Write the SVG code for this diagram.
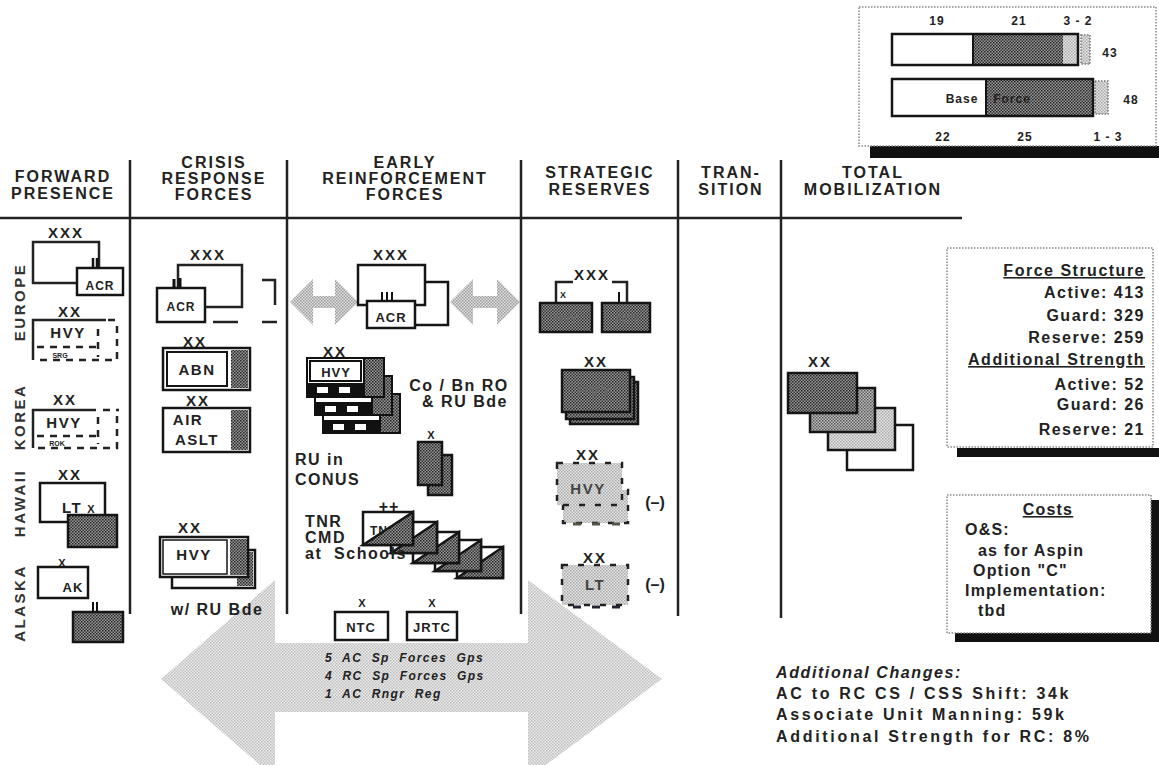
<svg xmlns="http://www.w3.org/2000/svg" width="1159" height="765" viewBox="0 0 1159 765">
<defs>
<pattern id="pd" width="3" height="3" patternUnits="userSpaceOnUse"><rect width="3" height="3" fill="#9a9a9a"/><rect width="1.5" height="1.5" fill="#222"/><rect x="1.5" y="1.5" width="1.5" height="1.5" fill="#333"/></pattern>
<pattern id="pm" width="3" height="3" patternUnits="userSpaceOnUse"><rect width="3" height="3" fill="#bdbdbd"/><rect width="1.5" height="1.5" fill="#555"/><rect x="1.5" y="1.5" width="1.5" height="1.5" fill="#666"/></pattern>
<pattern id="pl" width="3" height="3" patternUnits="userSpaceOnUse"><rect width="3" height="3" fill="#e6e6e6"/><rect width="1.5" height="1.5" fill="#a8a8a8"/><rect x="1.5" y="1.5" width="1.5" height="1.5" fill="#b0b0b0"/></pattern>
<pattern id="pa" width="3" height="3" patternUnits="userSpaceOnUse"><rect width="3" height="3" fill="#ececec"/><rect width="1.5" height="1.5" fill="#bcbcbc"/><rect x="1.5" y="1.5" width="1.5" height="1.5" fill="#c2c2c2"/></pattern>
<pattern id="ps" width="3" height="3" patternUnits="userSpaceOnUse"><rect width="3" height="3" fill="#e2e2e2"/><rect width="1.5" height="1.5" fill="#999"/><rect x="1.5" y="1.5" width="1.5" height="1.5" fill="#a0a0a0"/></pattern>
<style>
text{font-family:"Liberation Sans",Arial,Helvetica,sans-serif;font-weight:bold;fill:#222}
.h{font-size:16px;letter-spacing:2px;text-anchor:middle}
.r{font-size:15px;letter-spacing:2.5px;text-anchor:middle;fill:#333}
.x{font-size:15px;letter-spacing:2px;text-anchor:middle}
.xs{font-size:11px;text-anchor:middle}
.u{font-size:13px;letter-spacing:1px;text-anchor:middle}
.ub{font-size:15px;letter-spacing:1.5px;text-anchor:middle}
.s{font-size:12px;letter-spacing:1px;text-anchor:middle}
.lbl{font-size:16px;letter-spacing:1.5px}
.fs{font-size:16px;letter-spacing:1.5px;text-anchor:end}
.cs{font-size:16px;letter-spacing:1.2px}
.ac{font-size:16px;letter-spacing:2.7px}
.it{font-style:italic}
.ln{stroke:#222;stroke-width:2.5;fill:none}
.bx{stroke:#151515;stroke-width:2.5;fill:#fff}
.bd{stroke:#151515;stroke-width:2.5;fill:url(#pd)}
.dash{stroke:#222;stroke-width:2.5;fill:none;stroke-dasharray:7 6}
.dot{stroke:#888;stroke-width:1.5;fill:#fff;stroke-dasharray:1.5 1.5}
.sh{fill:#111}
</style>
</defs>
<rect width="1159" height="765" fill="#fff"/>

<!-- big double arrow and small arrows -->
<g id="connectors">
<polygon points="161,679 275,580 275,643 528,643 528,580 662,679 528,778 528,712 275,712 275,778" fill="url(#pa)"/>
<polygon points="290,302 313,279 313,296 335,296 335,279 358,302 335,325 335,308 313,308 313,325" fill="url(#ps)"/>
<polygon points="450,302 473,279 473,296 497,296 497,279 520,302 497,325 497,308 473,308 473,325" fill="url(#ps)"/>
</g>

<!-- grid -->
<g id="grid">
<line class="ln" x1="0" y1="218" x2="962" y2="218"/>
<line class="ln" x1="130" y1="160" x2="130" y2="614"/>
<line class="ln" x1="287" y1="160" x2="287" y2="614"/>
<line class="ln" x1="521" y1="160" x2="521" y2="614"/>
<line class="ln" x1="678" y1="160" x2="678" y2="616"/>
<line class="ln" x1="781" y1="160" x2="781" y2="618"/>
</g>

<g id="headers">
<text class="h" x="63" y="182">FORWARD</text>
<text class="h" x="63" y="199">PRESENCE</text>
<text class="h" x="214" y="168">CRISIS</text>
<text class="h" x="214" y="184">RESPONSE</text>
<text class="h" x="214" y="200">FORCES</text>
<text class="h" x="405" y="168">EARLY</text>
<text class="h" x="405" y="184" letter-spacing="1.5">REINFORCEMENT</text>
<text class="h" x="405" y="200">FORCES</text>
<text class="h" x="600" y="178">STRATEGIC</text>
<text class="h" x="600" y="195">RESERVES</text>
<text class="h" x="731" y="178">TRAN-</text>
<text class="h" x="731" y="195">SITION</text>
<text class="h" x="873" y="178">TOTAL</text>
<text class="h" x="873" y="195" letter-spacing="2.8">MOBILIZATION</text>
</g>

<g id="rows">
<text class="r" transform="translate(25,302) rotate(-90)">EUROPE</text>
<text class="r" transform="translate(25,417) rotate(-90)">KOREA</text>
<text class="r" transform="translate(25,503) rotate(-90)">HAWAII</text>
<text class="r" transform="translate(25,603) rotate(-90)">ALASKA</text>
</g>

<!-- top-right chart -->
<g id="chart">
<rect x="870" y="146" width="289" height="12" class="sh"/>
<rect x="859" y="7" width="297" height="139" class="dot"/>
<rect x="892" y="34" width="81" height="31" fill="#fff"/>
<rect x="973" y="34" width="90" height="31" fill="url(#pd)"/>
<rect x="1063" y="34" width="15" height="31" fill="url(#pl)"/>
<rect x="892" y="34" width="186" height="31" fill="none" stroke="#151515" stroke-width="2.5"/>
<line x1="973" y1="34" x2="973" y2="65" stroke="#151515" stroke-width="2"/>
<rect x="1081" y="35" width="9" height="29" fill="url(#pl)" stroke="#777" stroke-width="1.5" stroke-dasharray="1.5 1.5"/>
<rect x="892" y="79" width="94" height="37" fill="#fff"/>
<rect x="986" y="79" width="107" height="37" fill="url(#pd)"/>
<rect x="892" y="79" width="201" height="37" fill="none" stroke="#151515" stroke-width="2.5"/>
<line x1="986" y1="79" x2="986" y2="116" stroke="#151515" stroke-width="2"/>
<rect x="1095" y="81" width="13" height="33" fill="url(#pl)" stroke="#777" stroke-width="1.5" stroke-dasharray="1.5 1.5"/>
<text class="s" x="937" y="25">19</text>
<text class="s" x="1019" y="25">21</text>
<text class="s" x="1078" y="25">3 - 2</text>
<text class="s" x="1110" y="57">43</text>
<text class="s" x="962" y="103">Base</text>
<text class="s" x="1012" y="103">Force</text>
<text class="s" x="1131" y="104">48</text>
<text class="s" x="943" y="141">22</text>
<text class="s" x="1025" y="141">25</text>
<text class="s" x="1108" y="141">1 - 3</text>
</g>

<!-- Forward presence -->
<g id="fp-europe-acr">
<text class="x" x="66" y="238">XXX</text>
<path class="ln" d="M99,268 V242 H33 V283 H77"/>
<path d="M93,258 V268 M97,258 V268" stroke="#111" stroke-width="2.5"/>
<rect class="bx" x="77" y="268" width="46" height="27"/>
<text class="s" x="100" y="290">ACR</text>
</g>
<g id="fp-europe-hvy">
<text class="x" x="70" y="317">XX</text>
<path class="ln" d="M33,360 V320 H106"/>
<path class="dash" d="M108,320 H119 M117,326 V360 H36"/>
<path class="dash" d="M37,347 H100 M98,329 V357" stroke-width="2"/>
<text class="ub" x="68" y="338">HVY</text>
<text x="60" y="358" font-size="7" text-anchor="middle">SRG</text>
</g>
<g id="fp-korea-hvy">
<text class="x" x="65" y="405">XX</text>
<path class="ln" d="M33,448 V410 H96"/>
<path class="dash" d="M103,410 H119 M117,416 V448 H36"/>
<path class="dash" d="M37,436 H100 M98,417 V444" stroke-width="2"/>
<text class="ub" x="64" y="428">HVY</text>
<text x="57" y="446" font-size="7" text-anchor="middle">ROK</text>
</g>
<g id="fp-hawaii">
<text class="x" x="70" y="480">XX</text>
<rect class="bx" x="40" y="483" width="65" height="39"/>
<text class="ub" x="72" y="513">LT</text>
<text class="xs" x="91" y="513">X</text>
<rect class="bd" x="68" y="515" width="49" height="32"/>
</g>
<g id="fp-alaska">
<text class="xs" x="62" y="567">X</text>
<rect class="bx" x="38" y="567" width="50" height="31"/>
<text class="u" x="73" y="592">AK</text>
<path d="M93,602 V612 M97,602 V612" stroke="#111" stroke-width="2"/>
<rect class="bd" x="73" y="612" width="50" height="30"/>
</g>

<!-- Crisis response -->
<g id="cr-acr">
<text class="x" x="208" y="260">XXX</text>
<path class="ln" d="M205,307 H242 V265 H178 V288"/>
<path d="M174,279 V288 M180,278 V288" stroke="#111" stroke-width="3"/>
<rect class="bx" x="157" y="288" width="48" height="34"/>
<text class="s" x="181" y="311">ACR</text>
<path class="ln" d="M262,280 H275 V305 M213,322 H238 M262,322 H277"/>
</g>
<g id="cr-abn">
<text class="x" x="195" y="347">XX</text>
<rect class="bx" x="163" y="348" width="87" height="42"/>
<rect x="231" y="350" width="17" height="38" fill="url(#pd)"/>
<rect x="167" y="352" width="60" height="34" fill="#fff" stroke="#151515" stroke-width="2"/>
<text class="ub" x="197" y="375">ABN</text>
</g>
<g id="cr-airaslt">
<text class="x" x="198" y="406">XX</text>
<rect class="bx" x="163" y="408" width="87" height="44"/>
<rect x="231" y="410" width="17" height="40" fill="url(#pd)"/>
<text class="ub" x="188" y="425">AIR</text>
<text class="ub" x="197" y="445">ASLT</text>
</g>
<g id="cr-hvy">
<text class="x" x="190" y="533">XX</text>
<rect class="bx" x="172" y="550" width="83" height="38"/>
<rect x="237" y="552" width="16" height="34" fill="url(#pd)"/>
<rect class="bx" x="160" y="537" width="88" height="40"/>
<rect x="230" y="539" width="17" height="36" fill="url(#pd)"/>
<rect x="163" y="540" width="64" height="34" fill="#fff" stroke="#151515" stroke-width="1.5"/>
<text class="ub" x="194" y="560">HVY</text>
<text class="lbl" x="217" y="615" text-anchor="middle" letter-spacing="2">w/ RU Bde</text>
</g>

<!-- Early reinforcement -->
<g id="er-acr">
<text class="x" x="391" y="260">XXX</text>
<rect class="bx" x="405" y="282" width="43" height="43"/>
<rect class="bx" x="358" y="265" width="67" height="40"/>
<path d="M382,292 V301 M387,292 V301 M392,292 V301" stroke="#111" stroke-width="2"/>
<rect class="bx" x="367" y="301" width="48" height="27"/>
<text class="u" x="391" y="322">ACR</text>
</g>
<g id="er-hvy">
<text class="x" x="335" y="357">XX</text>
<g stroke="#111" stroke-width="2">
<rect x="323" y="394" width="77" height="39" fill="#fff"/>
<rect x="323" y="421" width="57" height="12" fill="#111"/>
<rect x="380" y="394" width="20" height="39" fill="url(#pd)"/>
<rect x="315" y="376" width="77" height="39" fill="#fff"/>
<rect x="315" y="403" width="57" height="12" fill="#111"/>
<rect x="372" y="376" width="20" height="39" fill="url(#pd)"/>
<rect x="307" y="358" width="77" height="39" fill="#fff"/>
<rect x="307" y="384" width="57" height="13" fill="#111"/>
<rect x="364" y="358" width="20" height="39" fill="url(#pd)"/>
<rect x="310" y="361" width="51" height="20" fill="#fff"/>
</g>
<g fill="#fff">
<rect x="333" y="424" width="11" height="6"/><rect x="355" y="424" width="11" height="6"/>
<rect x="325" y="406" width="11" height="6"/><rect x="347" y="406" width="11" height="6"/>
<rect x="317" y="387" width="11" height="6"/><rect x="339" y="387" width="11" height="6"/>
</g>
<text class="u" x="336" y="377" font-size="14">HVY</text>
<text class="lbl" x="459" y="391" text-anchor="middle">Co / Bn RO</text>
<text class="lbl" x="465" y="407" text-anchor="middle">&amp; RU Bde</text>
</g>
<g id="er-ru">
<text class="xs" x="431" y="439">X</text>
<rect class="bd" x="428" y="455" width="24" height="40"/>
<rect class="bd" x="418" y="442" width="24" height="43"/>
<text class="lbl" x="295" y="465">RU in</text>
<text class="lbl" x="295" y="485" letter-spacing="2.5">CONUS</text>
</g>
<g id="er-tnr">
<text x="389" y="512" font-size="16" text-anchor="middle" letter-spacing="1">++</text>
<g stroke="#151515" stroke-width="2.5">
<rect x="457" y="547" width="46" height="31" fill="#fff"/><polygon points="503,547 503,578 457,578" fill="url(#pd)"/>
<rect x="435" y="540" width="46" height="31" fill="#fff"/><polygon points="481,540 481,571 435,571" fill="url(#pd)"/>
<rect x="413" y="532" width="46" height="31" fill="#fff"/><polygon points="459,532 459,563 413,563" fill="url(#pd)"/>
<rect x="391" y="522" width="46" height="31" fill="#fff"/><polygon points="437,522 437,553 391,553" fill="url(#pd)"/>
<rect x="363" y="512" width="50" height="33" fill="#fff"/>
</g>
<text x="370" y="535" font-size="12" letter-spacing="1">TNR</text>
<polygon points="413,512 413,545 363,545" fill="url(#pd)" stroke="#151515" stroke-width="2.5"/>
<text class="lbl" x="305" y="527" letter-spacing="2">TNR</text>
<text class="lbl" x="305" y="543" letter-spacing="3.5">CMD</text>
<text class="lbl" x="305" y="559" letter-spacing="1.5" xml:space="preserve">at  Schools</text>
</g>
<g id="er-ntc">
<text class="xs" x="362" y="607">X</text>
<rect class="bx" x="335" y="612" width="53" height="28"/>
<text class="u" x="361" y="632">NTC</text>
</g>
<g id="er-jrtc">
<text class="xs" x="432" y="607">X</text>
<rect class="bx" x="407" y="612" width="50" height="28"/>
<text class="u" x="432" y="632">JRTC</text>
</g>
<g id="sof">
<text class="it" x="325" y="662" font-size="12" letter-spacing="1.4" xml:space="preserve">5  AC  Sp  Forces  Gps</text>
<text class="it" x="325" y="680" font-size="12" letter-spacing="1.4" xml:space="preserve">4  RC  Sp  Forces  Gps</text>
<text class="it" x="325" y="698" font-size="12" letter-spacing="1.4" xml:space="preserve">1  AC  Rngr  Reg</text>
</g>

<!-- Strategic reserves -->
<g id="sr-xxx">
<text class="x" x="592" y="280">XXX</text>
<path class="ln" d="M556,303 V282 H573 M612,282 H627 V303"/>
<text x="563" y="298" font-size="9" text-anchor="middle">X</text>
<path d="M619,292 V303" stroke="#111" stroke-width="2"/>
<rect class="bd" x="540" y="303" width="52" height="29"/>
<text x="566" y="323" font-size="11" text-anchor="middle" style="fill:#666">HVY</text>
<rect class="bd" x="602" y="303" width="48" height="29"/>
<text x="626" y="323" font-size="11" text-anchor="middle" style="fill:#666">ACR</text>
</g>
<g id="sr-hvy">
<text class="x" x="596" y="367">XX</text>
<rect class="bd" x="570" y="382" width="68" height="42"/>
<rect class="bd" x="566" y="377" width="68" height="42"/>
<rect class="bd" x="562" y="370" width="68" height="42"/>
<text class="ub" x="595" y="396" style="fill:#666">HVY</text>
</g>
<g id="sr-hvy-minus">
<text class="x" x="588" y="460">XX</text>
<rect x="563" y="490" width="65" height="33" fill="url(#pl)" stroke="#222" stroke-width="2.5" stroke-dasharray="6 10"/>
<rect x="557" y="463" width="65" height="42" fill="url(#pl)" stroke="#222" stroke-width="2.5" stroke-dasharray="6 10"/>
<text class="ub" x="588" y="494" style="fill:#444">HVY</text>
<path d="M573,524 H581 M592,524 H600 M612,524 H620" stroke="#554" stroke-width="3"/>
<text x="655" y="508" font-size="16" text-anchor="middle">(–)</text>
</g>
<g id="sr-lt-minus">
<text class="x" x="595" y="563">XX</text>
<rect x="562" y="565" width="66" height="40" fill="url(#pl)" stroke="#222" stroke-width="2.5" stroke-dasharray="6 10"/>
<text class="ub" x="595" y="590" style="fill:#444">LT</text>
<path d="M573,607 H581 M592,607 H600 M612,607 H620" stroke="#223" stroke-width="3"/>
<text x="655" y="590" font-size="16" text-anchor="middle">(–)</text>
</g>

<!-- Total mobilization -->
<g id="tm-stack">
<text class="x" x="820" y="367">XX</text>
<rect class="bx" x="847" y="425" width="66" height="45"/>
<rect x="828" y="408" width="67" height="42" fill="url(#pl)" stroke="#151515" stroke-width="2.5"/>
<rect x="810" y="388" width="65" height="44" fill="url(#pm)" stroke="#151515" stroke-width="2.5"/>
<rect class="bd" x="788" y="373" width="69" height="40"/>
</g>

<g id="force-structure">
<rect x="957" y="448" width="202" height="9" class="sh"/>
<rect x="947" y="248" width="206" height="199" class="dot"/>
<text class="fs" x="1145" y="276" text-decoration="underline">Force Structure</text>
<text class="fs" x="1145" y="298">Active:  413</text>
<text class="fs" x="1145" y="321">Guard:  329</text>
<text class="fs" x="1145" y="343">Reserve:  259</text>
<text class="fs" x="1145" y="365" text-decoration="underline">Additional Strength</text>
<text class="fs" x="1145" y="390">Active:  52</text>
<text class="fs" x="1145" y="410">Guard:  26</text>
<text class="fs" x="1145" y="435">Reserve:  21</text>
</g>

<g id="costs">
<rect x="1151" y="500" width="8" height="142" class="sh"/>
<rect x="955" y="633" width="204" height="9" class="sh"/>
<rect x="947" y="495" width="204" height="138" class="dot"/>
<text class="cs" x="1048" y="515" text-anchor="middle" text-decoration="underline">Costs</text>
<text class="cs" x="965" y="535">O&amp;S:</text>
<text class="cs" x="978" y="556">as for Aspin</text>
<text class="cs" x="973" y="576">Option "C"</text>
<text class="cs" x="965" y="596">Implementation:</text>
<text class="cs" x="978" y="616">tbd</text>
</g>

<g id="additional-changes">
<text class="it" x="776" y="678" font-size="16" letter-spacing="1.6">Additional Changes:</text>
<text class="ac" x="776" y="699">AC to RC CS / CSS Shift: 34k</text>
<text class="ac" x="776" y="720">Associate Unit Manning: 59k</text>
<text class="ac" x="776" y="742">Additional Strength for RC: 8%</text>
</g>
</svg>
